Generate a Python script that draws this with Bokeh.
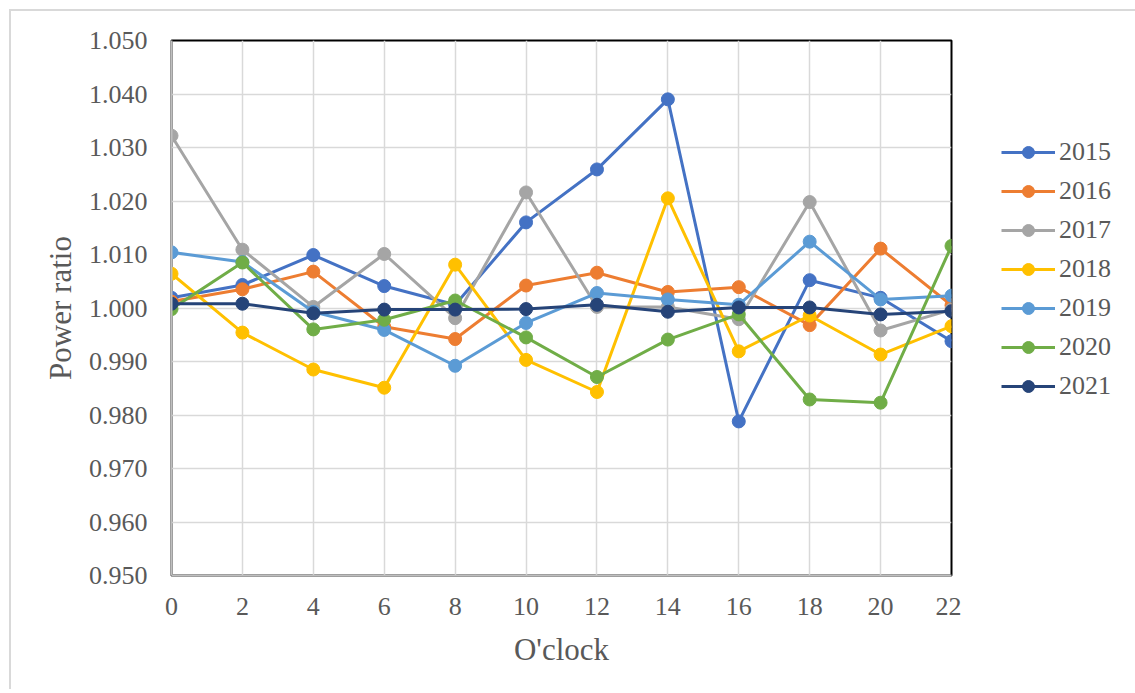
from bokeh.plotting import figure
from bokeh.layouts import row
from bokeh.models import (Range1d, FixedTicker, NumeralTickFormatter, Legend, LegendItem)
from bokeh.embed import file_html
from bokeh.resources import INLINE

hours = [0, 2, 4, 6, 8, 10, 12, 14, 16, 18, 20, 22]
y_ticks = [0.95, 0.96, 0.97, 0.98, 0.99, 1.00, 1.01, 1.02, 1.03, 1.04, 1.05]

years = ["2015", "2016", "2017", "2018", "2019", "2020", "2021"]
y2015 = [1.0019, 1.0043, 1.0099, 1.0041, 1.0006, 1.0160, 1.0259, 1.0390, 0.9788, 1.0052, 1.0019, 0.9938]
y2016 = [1.0012, 1.0035, 1.0068, 0.9965, 0.9942, 1.0042, 1.0066, 1.0030, 1.0039, 0.9968, 1.0111, 1.0005]
y2017 = [1.0322, 1.0109, 1.0002, 1.0101, 0.9981, 1.0216, 1.0002, 1.0002, 0.9979, 1.0198, 0.9958, 0.9997]
y2018 = [1.0064, 0.9954, 0.9885, 0.9851, 1.0081, 0.9903, 0.9843, 1.0205, 0.9919, 0.9986, 0.9913, 0.9966]
y2019 = [1.0104, 1.0086, 0.9993, 0.9959, 0.9892, 0.9972, 1.0028, 1.0016, 1.0006, 1.0124, 1.0016, 1.0023]
y2020 = [0.9998, 1.0085, 0.9960, 0.9978, 1.0014, 0.9945, 0.9871, 0.9941, 0.9988, 0.9829, 0.9823, 1.0116]
y2021 = [1.0008, 1.0008, 0.9990, 0.9997, 0.9997, 0.9998, 1.0006, 0.9993, 1.0001, 1.0001, 0.9988, 0.9994]
series = [y2015, y2016, y2017, y2018, y2019, y2020, y2021]
colors = ["#4472C4", "#ED7D31", "#A5A5A5", "#FFC000", "#5B9BD5", "#70AD47", "#264478"]

FONT = "Liberation Serif"
TXT = "#595959"

# main chart
p = figure(width=950, height=678, output_backend="svg", toolbar_location=None,
           x_range=Range1d(0, 22), y_range=Range1d(0.95, 1.05),
           min_border_left=160, min_border_top=29, min_border_right=10, min_border_bottom=114)

p.outline_line_color = "black"
p.outline_line_width = 2

p.xaxis.ticker = FixedTicker(ticks=hours)
p.yaxis.ticker = FixedTicker(ticks=y_ticks)
p.yaxis.formatter = NumeralTickFormatter(format="0.000")

for ax in [p.xaxis[0], p.yaxis[0]]:
    ax.axis_line_color = "#BFBFBF"
    ax.axis_line_width = 2
    ax.major_tick_line_color = None
    ax.minor_tick_line_color = None
    ax.major_tick_out = 0
    ax.major_tick_in = 0
    ax.major_label_text_font = FONT
    ax.major_label_text_font_size = "26px"
    ax.major_label_text_color = TXT
    ax.axis_label_text_font = FONT
    ax.axis_label_text_font_size = "31px"
    ax.axis_label_text_font_style = "normal"
    ax.axis_label_text_color = TXT

p.yaxis.major_label_standoff = 24
p.xaxis.major_label_standoff = 22
p.yaxis.axis_label = "Power ratio"
p.xaxis.axis_label = "O'clock"
p.yaxis.axis_label_standoff = 8
p.xaxis.axis_label_standoff = 14

p.xgrid.ticker = FixedTicker(ticks=hours)
p.ygrid.ticker = FixedTicker(ticks=y_ticks)
for g in [p.xgrid[0], p.ygrid[0]]:
    g.grid_line_color = "#D9D9D9"
    g.grid_line_width = 1.5

for name, ys, c in zip(years, series, colors):
    p.line(hours, ys, line_color=c, line_width=3)
    p.scatter(hours, ys, size=13, fill_color=c, line_color=c, line_width=1)

# legend panel (a separate, axis-less figure holding hidden copies of the series)
lg = figure(width=180, height=678, output_backend="svg", toolbar_location=None,
            x_range=Range1d(0, 22), y_range=Range1d(0.95, 1.05),
            x_axis_type=None, y_axis_type=None,
            min_border_left=0, min_border_right=0, min_border_top=0, min_border_bottom=0)
lg.outline_line_color = None
lg.grid.visible = False

items = []
for name, ys, c in zip(years, series, colors):
    ln = lg.line(hours, ys, line_color=c, line_width=3, visible=False)
    mk = lg.scatter(hours, ys, size=13, fill_color=c, line_color=c, line_width=1, visible=False)
    items.append(LegendItem(label=name, renderers=[ln, mk]))

legend = Legend(items=items, location=(40, 174))
legend.padding = 0
legend.margin = 0
legend.border_line_color = None
legend.background_fill_alpha = 0
legend.glyph_width = 54
legend.glyph_height = 30
legend.label_height = 30
legend.spacing = 9
legend.label_standoff = 4
legend.label_text_font = FONT
legend.label_text_font_size = "26px"
legend.label_text_color = TXT
lg.add_layout(legend, "center")

layout = row(p, lg, spacing=0)
layout.styles = {"margin-left": "9px", "margin-top": "9px",
                 "border-left": "2px solid #d9d9d9", "border-top": "2px solid #d9d9d9"}

open("out.html", "w").write(file_html(layout, INLINE))
